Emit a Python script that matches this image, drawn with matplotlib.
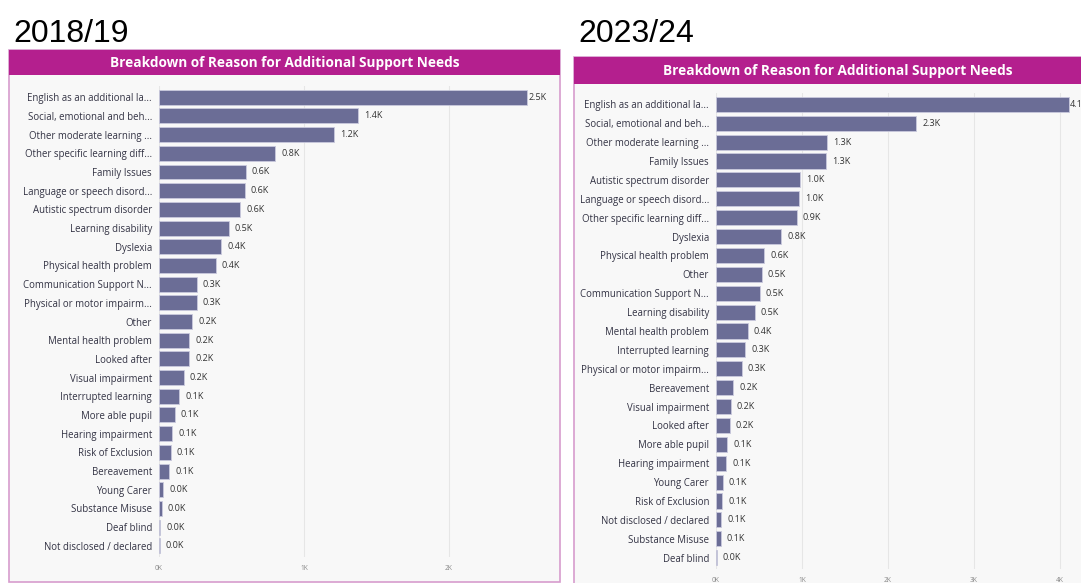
import matplotlib.pyplot as plt
from matplotlib.patches import Rectangle

# data (thousands)
cats_1819 = ['English as an additional la...', 'Social, emotional and beh...', 'Other moderate learning ...',
             'Other specific learning diff...', 'Family Issues', 'Language or speech disord...',
             'Autistic spectrum disorder', 'Learning disability', 'Dyslexia', 'Physical health problem',
             'Communication Support N...', 'Physical or motor impairm...', 'Other', 'Mental health problem',
             'Looked after', 'Visual impairment', 'Interrupted learning', 'More able pupil',
             'Hearing impairment', 'Risk of Exclusion', 'Bereavement', 'Young Carer', 'Substance Misuse',
             'Deaf blind', 'Not disclosed / declared']
vals_1819 = [2.54, 1.37, 1.21, 0.80, 0.60, 0.59, 0.56, 0.48, 0.43, 0.39,
             0.26, 0.26, 0.23, 0.21, 0.21, 0.17, 0.14, 0.11, 0.09, 0.08,
             0.07, 0.03, 0.02, 0.01, 0.005]
labels_1819 = ['2.5K', '1.4K', '1.2K', '0.8K', '0.6K', '0.6K', '0.6K', '0.5K', '0.4K', '0.4K',
               '0.3K', '0.3K', '0.2K', '0.2K', '0.2K', '0.2K', '0.1K', '0.1K', '0.1K', '0.1K',
               '0.1K', '0.0K', '0.0K', '0.0K', '0.0K']

cats_2324 = ['English as an additional la...', 'Social, emotional and beh...', 'Other moderate learning ...',
             'Family Issues', 'Autistic spectrum disorder', 'Language or speech disord...',
             'Other specific learning diff...', 'Dyslexia', 'Physical health problem', 'Other',
             'Communication Support N...', 'Learning disability', 'Mental health problem',
             'Interrupted learning', 'Physical or motor impairm...', 'Bereavement', 'Visual impairment',
             'Looked after', 'More able pupil', 'Hearing impairment', 'Young Carer', 'Risk of Exclusion',
             'Not disclosed / declared', 'Substance Misuse', 'Deaf blind']
vals_2324 = [4.10, 2.33, 1.29, 1.28, 0.98, 0.97, 0.94, 0.76, 0.56, 0.53,
             0.51, 0.45, 0.37, 0.34, 0.30, 0.20, 0.17, 0.16, 0.13, 0.12,
             0.08, 0.07, 0.06, 0.055, 0.01]
labels_2324 = ['4.1K', '2.3K', '1.3K', '1.3K', '1.0K', '1.0K', '0.9K', '0.8K', '0.6K', '0.5K',
               '0.5K', '0.5K', '0.4K', '0.3K', '0.3K', '0.2K', '0.2K', '0.2K', '0.1K', '0.1K',
               '0.1K', '0.1K', '0.1K', '0.1K', '0.0K']

W, H = 1081, 583
fig = plt.figure(figsize=(W / 100, H / 100), dpi=100)
fig.patch.set_facecolor('white')

MAGENTA = '#b41f8e'
BAR = '#6b6d96'


def px_rect(x0, y0, x1, y1, **kw):
    fig.patches.append(Rectangle((x0 / W, 1 - y1 / H), (x1 - x0) / W, (y1 - y0) / H,
                                 transform=fig.transFigure, figure=fig, zorder=-5, **kw))


def panel(year, x0, y0, x1, y1, head_h, cats, vals, labels, ax_box, xmax, xticks):
    fig.text((x0 + 4) / W, 1 - 42 / H, year, fontsize=23, family='Liberation Sans',
             ha='left', va='baseline', color='black')
    px_rect(x0, y0, x1, y1, facecolor='#f8f8f8', edgecolor='#d79ccd', linewidth=1.2)
    px_rect(x0, y0, x1, y0 + head_h, facecolor=MAGENTA, edgecolor='none')
    fig.text(((x0 + min(x1, W)) / 2 + (0 if x1 <= W else 10)) / W, 1 - (y0 + head_h / 2 + 1) / H,
             'Breakdown of Reason for Additional Support Needs', fontsize=9.8, fontweight='bold',
             family='Open Sans', color='white', ha='center', va='center')

    ax0, ay0, ax1, ay1 = ax_box
    ax = fig.add_axes([ax0 / W, 1 - ay1 / H, (ax1 - ax0) / W, (ay1 - ay0) / H])
    ax.set_facecolor('none')
    y = list(range(len(cats)))
    ax.barh(y, vals, height=0.8, color=BAR, edgecolor='#c9c9dd', linewidth=0.6, zorder=3)
    ax.set_ylim(len(cats) - 0.4, -0.6)
    ax.set_xlim(0, xmax)
    ax.set_yticks(y)
    ax.set_yticklabels(cats, fontsize=6.9, family='Open Sans', color='#333344')
    ax.set_xticks(xticks)
    ax.set_xticklabels([f'{t}K' for t in xticks], fontsize=4.8, family='Open Sans', color='#8a8a8a')
    ax.tick_params(axis='both', length=0)
    ax.tick_params(axis='y', pad=5)
    ax.tick_params(axis='x', pad=6)
    for s in ax.spines.values():
        s.set_visible(False)
    ax.grid(axis='x', color='#e6e6e6', linewidth=0.8, zorder=0)
    top = max(vals)
    for yi, v, lab in zip(y, vals, labels):
        off = 1 if v == top else 6
        ax.annotate(lab, (v, yi), xytext=(off, 0), textcoords='offset pixels',
                    fontsize=6.5, family='Open Sans', color='#333333', va='center', ha='left')
    return ax


panel('2018/19', 9, 50, 560, 582, 25, cats_1819, vals_1819, labels_1819,
      (159, 86, 555, 557), (555 - 159) / 145, [0, 1, 2])
panel('2023/24', 574, 57, 1120, 600, 27, cats_2324, vals_2324, labels_2324,
      (716, 93, 1110, 569), (1110 - 716) / 86, [0, 1, 2, 3, 4])

fig.savefig('out.png', dpi=100)
